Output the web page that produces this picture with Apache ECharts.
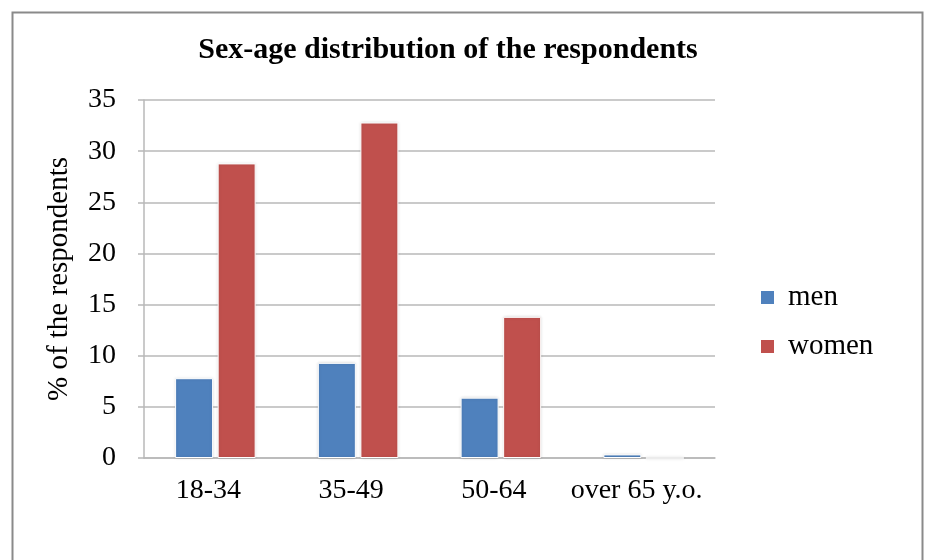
<!DOCTYPE html>
<html>
<head>
<meta charset="utf-8">
<script src="https://cdn.jsdelivr.net/npm/echarts@6/dist/echarts.min.js"></script>
<style>
  html, body { margin: 0; padding: 0; background: #fff; }
  #chart { width: 926px; height: 560px; }
</style>
</head>
<body>
<div id="chart"></div>
<script>
// age groups and shares (% of respondents)
const categories = ['18-34', '35-49', '50-64', 'over 65 y.o.'];
const menValues = [7.8, 9.3, 5.9, 0.35];
const womenValues = [28.8, 32.8, 13.8, 0];
const yTicks = [0, 5, 10, 15, 20, 25, 30, 35];

const serif = '"Liberation Serif", "DejaVu Serif", serif';

const chart = echarts.init(document.getElementById('chart'));
const option = {
    animation: false,
    graphic: [
        {
            type: 'rect',
            left: 10, top: 10,
            shape: { width: 910, height: 570 },
            style: { fill: 'none', stroke: '#8a8a8a', lineWidth: 2 },
            silent: true
        }
    ],
    title: {
        text: 'Sex-age distribution of the respondents',
        left: 443,
        textAlign: 'center',
        top: 30,
        textStyle: { fontFamily: serif, fontWeight: 'bold', fontSize: 30, color: '#000' }
    },
    legend: {
        orient: 'vertical',
        left: 754,
        top: 278,
        itemWidth: 15,
        itemHeight: 15,
        itemGap: 20,
        icon: 'rect',
        textStyle: { fontFamily: serif, fontSize: 29, color: '#000', padding: [0, 0, 0, 8] },
        data: ['men', 'women']
    },
    grid: {
        left: 144,
        right: 211,
        top: 100,
        bottom: 102,
        containLabel: false
    },
    xAxis: {
        type: 'category',
        data: categories,
        axisLine: { lineStyle: { color: '#b8b8b8', width: 1.5 } },
        axisTick: { show: false },
        axisLabel: { interval: 0, fontFamily: serif, fontSize: 28, color: '#000', margin: 19, padding: [0, 14, 0, 0] }
    },
    yAxis: {
        type: 'value',
        min: yTicks[0],
        max: yTicks[yTicks.length - 1],
        interval: 5,
        name: '% of the respondents',
        nameLocation: 'middle',
        nameGap: 70,
        nameRotate: 90,
        nameTextStyle: { fontFamily: serif, fontSize: 29, color: '#000' },
        axisLine: { show: true, lineStyle: { color: '#b8b8b8', width: 1.5 } },
        axisTick: { show: true, length: 6, lineStyle: { color: '#b8b8b8', width: 1.5 } },
        axisLabel: { fontFamily: serif, fontSize: 28, color: '#000', margin: 28 },
        splitLine: { lineStyle: { color: '#b8b8b8', width: 1.5 } }
    },
    series: [
        {
            name: 'men',
            type: 'bar',
            data: menValues,
            barWidth: 38,
            barGap: '12%',
            itemStyle: { color: '#4f81bd', borderColor: '#fff', borderWidth: 1, shadowColor: 'rgba(0,0,0,0.15)', shadowBlur: 3 }
        },
        {
            name: 'women',
            type: 'bar',
            data: womenValues,
            barWidth: 38,
            itemStyle: { color: '#c0504d', borderColor: '#fff', borderWidth: 1, shadowColor: 'rgba(0,0,0,0.15)', shadowBlur: 3 }
        }
    ]
};
chart.setOption(option);
window.addEventListener('resize', function () {
    chart.resize();
});
</script>
</body>
</html>
